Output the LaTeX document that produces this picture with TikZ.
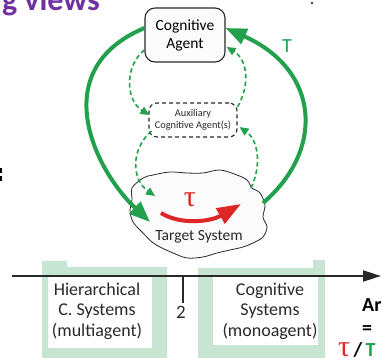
\documentclass[tikz,border=0pt]{standalone}
\usepackage{fontspec}
\setmainfont{Carlito}
\newfontfamily\greekserif{Liberation Serif}
\usetikzlibrary{arrows.meta}

\definecolor{flowgreen}{RGB}{34,160,76}
\definecolor{bandgreen}{RGB}{200,228,210}
\definecolor{tauRed}{RGB}{222,38,38}
\definecolor{titlePurple}{RGB}{112,48,160}
\definecolor{inkgray}{RGB}{40,40,40}
\definecolor{paper}{RGB}{251,251,251}

\tikzset{
  agentbox/.style={draw=inkgray, line width=1.1pt, fill=paper, rounded corners=10pt,
    align=center, inner sep=0pt, font=\fontsize{15.5}{18}\selectfont},
  auxbox/.style={draw=inkgray, line width=1.1pt, dash pattern=on 4pt off 3pt, fill=white,
    rounded corners=8pt, align=center, inner sep=0pt, font=\fontsize{10.3}{12}\selectfont,
    text=inkgray},
  mainflow/.style={draw=flowgreen, line width=4pt, -{Triangle[length=21pt,width=16pt]}},
  subflow/.style={draw=flowgreen, line width=1.6pt, dash pattern=on 4.5pt off 3pt,
    -{Triangle[length=9pt,width=8pt]}},
  scalelabel/.style={align=center, inner sep=0pt, font=\fontsize{18}{20.5}\selectfont,
    text=inkgray},
  sidetext/.style={anchor=base west, inner sep=0pt, font=\fontsize{20}{20}\selectfont\bfseries},
}

\begin{document}
\begin{tikzpicture}[x=1pt,y=-1pt]
\useasboundingbox (0,0) rectangle (383,358);

% light green brackets under the scale
\fill[bandgreen, even odd rule]
  (42,261) -- (67,261) -- (67,267) -- (167,267) -- (167,358) -- (42,358) -- cycle
  (48,277) rectangle (152,348);
\fill[bandgreen, even odd rule]
  (198,268) -- (313,268) -- (313,260) -- (325,260) -- (325,358) -- (198,358) -- cycle
  (213,277) rectangle (318,345);

% scale axis with its tick
\coordinate (axisL) at (12,276);
\coordinate (axisR) at (381,276);
\coordinate (tickTop) at (183,276);
\coordinate (tickBot) at (183,303);
\draw[inkgray, line width=2pt, -{Triangle[length=18pt,width=11pt]}] (axisL) -- (axisR);
\draw[inkgray, line width=2pt] (tickTop) -- (tickBot);
\node[font=\fontsize{19}{19}\selectfont, text=inkgray, anchor=base] (two) at (181,318) {2};

\node[scalelabel] (hier) at (97,311) {Hierarchical\\C. Systems\\(multiagent)};
\node[scalelabel] (mono) at (270,311) {Cognitive\\Systems\\(monoagent)};

% target system
\draw[inkgray, line width=0.8pt, fill=paper] plot[smooth cycle, tension=0.55] coordinates {
  (132,188) (143,178) (153,175) (170,172) (187,173) (203,173) (220,170) (237,175)
  (247,180) (252,188) (260,193) (265,205) (263,217) (267,227) (263,237) (253,243)
  (243,247) (230,250) (217,253) (203,257) (187,258) (173,253) (160,247) (152,242)
  (143,233) (133,222) (130,210) (132,200)};
\node[font=\fontsize{15.5}{15.5}\selectfont, text=inkgray, anchor=base] (target) at (199,241) {Target System};
\node[font=\greekserif\fontsize{30}{30}\selectfont, text=tauRed] (tau) at (190,200) {τ};
\coordinate (redS) at (161,213);
\coordinate (redE) at (241,204);
\draw[tauRed, line width=4pt, -{Triangle[length=24pt,width=17pt]}]
  (redS) .. controls (180,225) and (210,222) .. (redE);

% agents
\node[agentbox, minimum width=80pt, minimum height=54pt] (agent) at (185,35) {Cognitive\\Agent};
\node[auxbox, minimum width=88pt, minimum height=34pt] (aux) at (193,120) {Auxiliary\\Cognitive Agent(s)};

% attachment points
\coordinate (agentL) at ([yshift=7pt]agent.west);
\coordinate (agentR) at ([yshift=7pt]agent.east);
\coordinate (agentLL) at ([yshift=-15pt]agent.west);
\coordinate (agentRL) at ([yshift=-12pt,xshift=1pt]agent.east);
\coordinate (auxLT) at ([yshift=5pt,xshift=1pt]aux.west);
\coordinate (auxLB) at ([yshift=-11pt,xshift=3pt]aux.west);
\coordinate (auxRT) at ([yshift=13pt]aux.east);
\coordinate (auxRB) at ([yshift=-7pt,xshift=2pt]aux.east);
\coordinate (blobIn) at (150,222);
\coordinate (blobOut) at (263,203);
\coordinate (blobDashIn) at (155,196);
\coordinate (blobDashOut) at (251,188);

% main loop
\draw[mainflow] (agentL) .. controls (45,70) and (95,170) .. (blobIn);
\draw[mainflow] (blobOut) .. controls (325,150) and (320,70) .. (agentR);
\node[font=\fontsize{20}{20}\selectfont, text=flowgreen] (Tlabel) at (287,46) {T};

% loops through the auxiliary agent
\draw[subflow] (agentLL) .. controls (125,65) and (125,100) .. (auxLT);
\draw[subflow] (auxLB) .. controls (130,150) and (132,180) .. (blobDashIn);
\draw[subflow] (blobDashOut) .. controls (262,165) and (258,140) .. (auxRB);
\draw[subflow] (auxRT) .. controls (250,85) and (248,60) .. (agentRL);

% slide fragments around the figure
\node[anchor=base east, inner sep=0pt, font=\fontsize{32}{32}\selectfont\bfseries,
  text=titlePurple] (title) at (100,11) {g views};
\fill[black] (312,3) circle (1.1pt);
\fill[black] (-1,168) rectangle (2,173);
\fill[black] (-1,176) rectangle (2,181);
\node[sidetext] (ratio) at (362,312) {Ar};
\node[sidetext] (equals) at (362,334) {=};
\node[anchor=base west, inner sep=0pt] (tauT) at (338,356)
  {{\greekserif\fontsize{30}{30}\selectfont\textcolor{tauRed}{τ}}{\fontsize{20}{20}\selectfont\bfseries\,/\,\textcolor{flowgreen}{T}}};
\end{tikzpicture}
\end{document}
